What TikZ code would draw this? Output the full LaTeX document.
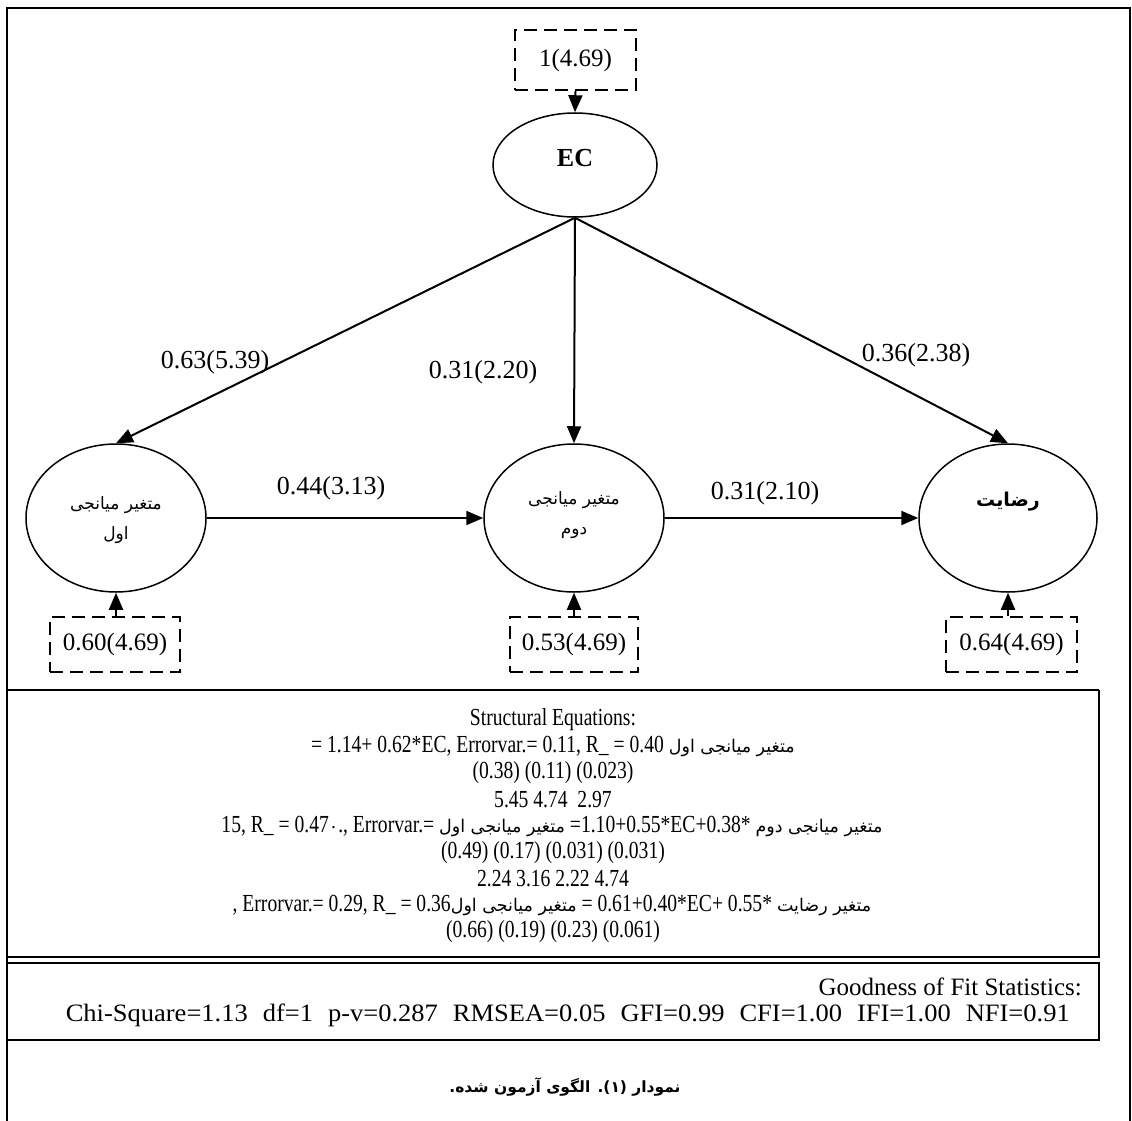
\documentclass[tikz,border=0pt]{standalone}
\usepackage{fontspec}
\setmainfont{Liberation Serif}
\newfontfamily\fa[Script=Arabic]{DejaVu Sans}
\newfontfamily\eqf[FakeStretch=0.8]{Liberation Serif}
\newfontfamily\gfw[FakeStretch=1.06]{Liberation Serif}
\TeXXeTstate=1
\usetikzlibrary{arrows.meta,shapes.geometric}
\tikzset{
  latent/.style={draw, ellipse, line width=1.5pt, minimum width=180pt, minimum height=148pt, inner sep=0pt},
  errbox/.style={draw, dash pattern=on 13pt off 7pt, line width=2.1pt, minimum width=130pt, minimum height=55pt, font=\fontsize{25}{29}\selectfont},
  arr/.style={line width=2pt, -{Triangle[length=17pt,width=14pt]}},
  lbl/.style={font=\fontsize{26}{30}\selectfont, inner sep=0pt},
  fatxt/.style={font=\fa\fontsize{17}{30}\selectfont, align=center, inner sep=0pt},
  eqline/.style={font=\eqf\fontsize{24.5}{28}\selectfont, inner sep=0pt},
  gfline/.style={font=\fontsize{25}{30}\selectfont, inner sep=0pt},
  frame/.style={line width=1.6pt},
}
\newcommand{\fq}{\fa\fontsize{17.5}{26}\selectfont}
\begin{document}
\begin{tikzpicture}[x=1pt,y=-1pt]
\useasboundingbox (0,0) rectangle (1132,1121);
% outer frame
\draw[frame] (7,1121) -- (7,8) -- (1130,8) -- (1130,1121);
% nodes
\node[latent, minimum width=164pt, minimum height=104pt] (ec) at (575,165) {};
\node[font=\bfseries\fontsize{26}{30}\selectfont, inner sep=0pt] (ectxt) at (575,158) {EC};
\node[latent] (m1) at (116,518) {};
\node[latent] (m2) at (574,518) {};
\node[latent, minimum width=178pt] (s) at (1008,518) {};
\node[fatxt] (m1txt) at (116,520) {\beginR متغیر میانجی\endR\\\beginR اول\endR};
\node[fatxt] (m2txt) at (574,515) {\beginR متغیر میانجی\endR\\\beginR دوم\endR};
\node[fatxt, font=\fa\bfseries\fontsize{19}{30}\selectfont] (stxt) at (1008,502) {\beginR رضایت\endR};
% error boxes
\node[errbox, minimum width=121pt, minimum height=60pt] (e0) at (575.5,60) {1(4.69)};
\node[errbox] (e1) at (115,644.5) {0.60(4.69)};
\node[errbox, minimum width=128pt] (e2) at (574,644.5) {0.53(4.69)};
\node[errbox, minimum width=131pt] (e3) at (1011.5,644.5) {0.64(4.69)};
% connectors
\draw[arr] (e0.south) -- (ec.north);
\draw[arr] (m1.south |- e1.north) -- (m1.south);
\draw[arr] (m2.south |- e2.north) -- (m2.south);
\draw[arr] (s.south |- e3.north) -- (s.south);
\draw[arr] (ec.south) -- (m1.north);
\draw[arr] (ec.south) -- (m2.north);
\draw[arr] (ec.south) -- (s.north);
\draw[arr] (m1.east) -- (m2.west);
\draw[arr] (m2.east) -- (s.west);
% path labels
\node[lbl] (l1) at (215,362) {0.63(5.39)};
\node[lbl] (l2) at (483,372) {0.31(2.20)};
\node[lbl] (l3) at (916,355) {0.36(2.38)};
\node[lbl] (l4) at (331,488) {0.44(3.13)};
\node[lbl] (l5) at (765,493) {0.31(2.10)};
% equations box
\draw[line width=2.8pt] (7,690) -- (1099,690);
\draw[line width=1.8pt] (1099,690) -- (1099,957) -- (7,957);
\node[eqline] (q1) at (553,720) {Structural Equations:};
\node[eqline] (q2) at (553,746.5) {= 1.14+ 0.62*EC, Errorvar.= 0.11, R\_ = 0.40 {\fq\beginR متغیر میانجی اول\endR}};
\node[eqline] (q3) at (553,773) {(0.38) (0.11) (0.023)};
\node[eqline] (q4) at (553,799.5) {5.45 4.74\ \ 2.97};
\node[eqline] (q5) at (552,826) {15, R\_ = 0.47{\fq ٠}., Errorvar.= {\fq\beginR متغیر میانجی اول\endR} =1.10+0.55*EC+0.38* {\fq\beginR متغیر میانجی دوم\endR}};
\node[eqline] (q6) at (553,852.5) {(0.49) (0.17) (0.031) (0.031)};
\node[eqline] (q7) at (553,879) {2.24 3.16 2.22 4.74};
\node[eqline] (q8) at (552,905.5) {, Errorvar.= 0.29, R\_ = 0.36{\fq\beginR متغیر میانجی اول\endR} = 0.61+0.40*EC+ 0.55* {\fq\beginR متغیر رضایت\endR}};
\node[eqline] (q9) at (553,932) {(0.66) (0.19) (0.23) (0.061)};
% goodness box
\draw[line width=2.4pt] (7,963) rectangle (1099,1040);
\node[gfline, anchor=base east] (g1) at (1082,995) {Goodness of Fit Statistics:};
\node[gfline, anchor=base east] (g2) at (1070,1021) {\gfw\hbox to 1004pt{Chi-Square=1.13\hfill df=1\hfill p-v=0.287\hfill RMSEA=0.05\hfill GFI=0.99\hfill CFI=1.00\hfill IFI=1.00\hfill NFI=0.91}};
% caption
\node[font=\fa\bfseries\fontsize{15.5}{26}\selectfont, inner sep=0pt] (cap) at (565,1087) {\beginR نمودار (۱). الگوی آزمون شده.\endR};
\end{tikzpicture}
\end{document}
